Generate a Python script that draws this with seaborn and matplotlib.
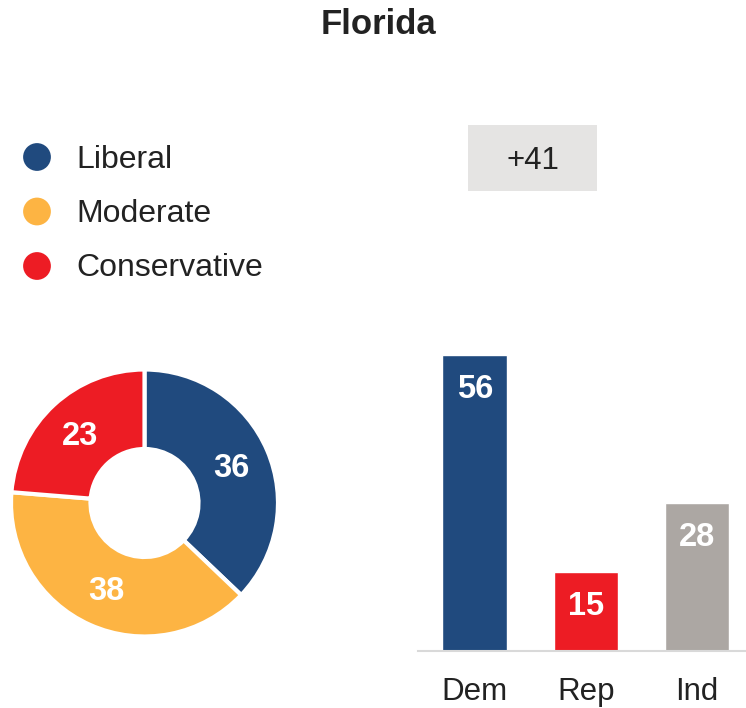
import matplotlib
matplotlib.use("Agg")
import matplotlib.pyplot as plt
import seaborn as sns
import pandas as pd
import numpy as np
from matplotlib.patches import Rectangle

# ---- data ----
title = "Florida"
ideology = ["Liberal", "Moderate", "Conservative"]
ideology_values = [36, 38, 23]
ideology_colors = ["#204a7e", "#fdb443", "#ed1c24"]

parties = ["Dem", "Rep", "Ind"]
party_values = [56, 15, 28]
party_colors = ["#204a7e", "#ed1c24", "#aca7a3"]

sns.set_theme(style="white")
plt.rcParams['font.family'] = ['Liberation Sans', 'DejaVu Sans']

W, H = 746, 708
fig = plt.figure(figsize=(W / 100, H / 100), dpi=100)

def fx(px):
    return px / W

def fy(py):
    return 1 - py / H

# Title
fig.text(fx(378), fy(24), title, ha="center", va="center",
         fontsize=25, fontweight="bold", color="#222222")

# Overlay axes (pixel coordinates) for legend
ov = fig.add_axes([0, 0, 1, 1])
ov.set_xlim(0, W)
ov.set_ylim(H, 0)
ov.axis("off")
for i, (lab, col) in enumerate(zip(ideology, ideology_colors)):
    y = 157 + i * 54.5
    ov.scatter([37], [y], s=400, color=col, edgecolor="none")
    ov.text(76, y + 2.5, lab, ha="left", va="center", fontsize=23, color="#222222")

# Margin box
fig.patches.append(Rectangle((fx(468), fy(191)), fx(597) - fx(468), fy(125) - fy(191),
                             transform=fig.transFigure, facecolor="#e5e4e3",
                             edgecolor="none", zorder=0))
margin = party_values[0] - party_values[1]
fig.text(fx(532.5), fy(161), f"+{margin}", ha="center", va="center",
         fontsize=22.5, color="#222222")

# Donut
R = 132
cx, cy = 144.5, 503
ext = 140
axp = fig.add_axes([fx(cx - ext), fy(cy + ext), (2 * ext) / W, (2 * ext) / H])
rad = 1 + 1.5 / R
wedges, _ = axp.pie(ideology_values, colors=ideology_colors, startangle=90,
                    counterclock=False, radius=rad,
                    wedgeprops=dict(width=rad - 54 / R, edgecolor="white", linewidth=3))
axp.set_xlim(-ext / R, ext / R)
axp.set_ylim(-ext / R, ext / R)
axp.set_aspect("equal")
axp.axis("off")
mid_r = (1 + 57 / R) / 2
for w, v in zip(wedges, ideology_values):
    ang = np.deg2rad((w.theta1 + w.theta2) / 2)
    axp.annotate(str(v), (mid_r * np.cos(ang), mid_r * np.sin(ang)),
                 xytext=(0, -2.5), textcoords="offset pixels", ha="center", va="center",
                 fontsize=23.5, fontweight="bold", color="white")

# Bars
axb = fig.add_axes([fx(418), fy(651), fx(746) - fx(418), (651 - 334) / H])
df = pd.DataFrame({"party": parties, "value": party_values})
sns.barplot(data=df, x="party", y="value", hue="party", palette=party_colors,
            width=0.58, legend=False, ax=axb, saturation=1)
axb.set_xlim(-0.51, 2.44)
axb.set_ylim(0, 60)
for s in ["top", "right", "left"]:
    axb.spines[s].set_visible(False)
axb.spines["bottom"].set_color("#d9d9d9")
axb.spines["bottom"].set_linewidth(1.5)
axb.set_yticks([])
axb.set_xlabel("")
axb.set_ylabel("")
axb.tick_params(axis="x", length=0, pad=18.5, labelsize=22.5, labelcolor="#222222")
for p, v in zip(axb.patches, party_values):
    axb.annotate(str(v), (p.get_x() + p.get_width() / 2, p.get_height()),
                 xytext=(0, -34.5), textcoords="offset pixels", ha="center", va="center",
                 fontsize=23.5, fontweight="bold", color="white")

fig.savefig("out.png", dpi=100)
